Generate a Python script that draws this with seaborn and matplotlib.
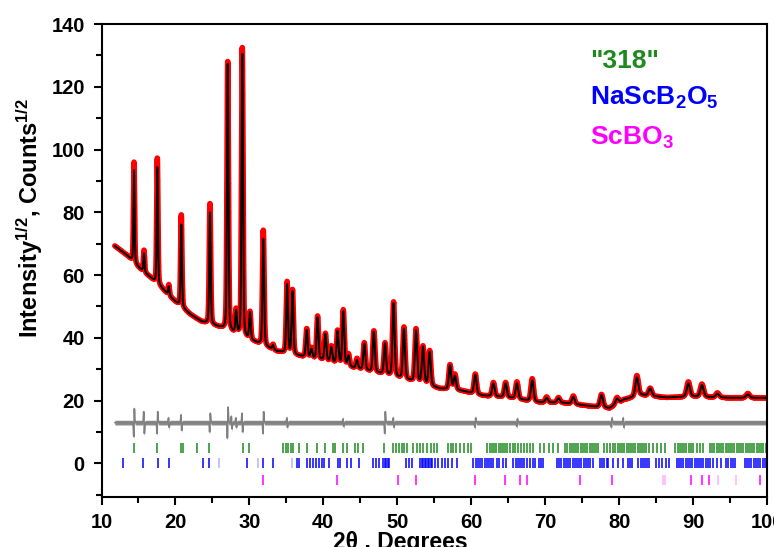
import numpy as np
import pandas as pd
import matplotlib
matplotlib.use("Agg")
import matplotlib.pyplot as plt
import seaborn as sns

# ---------------- data ----------------
peak_pos  = [14.40, 15.75, 17.55, 19.10, 20.79, 24.67, 27.07, 28.20, 29.04, 30.08,
             31.88, 33.20, 35.10, 35.83, 37.75, 38.40, 39.22, 40.28, 41.08, 41.92,
             42.70, 43.40, 44.55, 45.54, 46.83, 48.34, 49.50, 50.90, 52.53, 53.48,
             54.38, 57.13, 57.80, 60.55, 63.00, 64.65, 66.18, 68.25, 70.20, 71.80,
             73.80, 77.62, 79.70, 82.40, 84.20, 89.36, 91.20, 93.30, 97.40]
calc_apex = [93.5, 67.0, 94.7, 56.5, 76.3, 80.2, 127.8, 49.0, 130.5, 48.3,
             71.5, 37.8, 57.2, 55.0, 42.6, 36.6, 46.6, 41.3, 37.2, 42.3,
             48.5, 34.5, 33.0, 38.2, 42.0, 38.3, 51.1, 43.0, 42.5, 37.3,
             35.6, 31.3, 28.0, 28.3, 25.5, 25.5, 25.5, 26.5, 20.9, 20.8,
             21.2, 21.8, 20.7, 27.4, 23.9, 25.5, 25.0, 22.2, 22.0]
obs_apex  = [96.0, 68.0, 97.6, 57.0, 79.4, 83.0, 128.5, 49.5, 132.5, 48.5,
             74.3, 38.0, 58.0, 55.5, 43.0, 37.0, 47.0, 41.5, 37.5, 42.5,
             49.0, 35.0, 33.5, 38.5, 42.3, 38.5, 51.5, 43.5, 43.0, 37.5,
             36.0, 31.5, 28.5, 28.5, 25.8, 25.8, 26.0, 27.0, 21.2, 21.0,
             21.5, 22.0, 21.0, 28.0, 24.0, 26.0, 25.3, 22.5, 22.3]

bg_x = [11.8, 13.5, 15.0, 16.5, 18.3, 20.0, 22.0, 23.5, 26.0, 28.0, 30.8, 33.7,
        36.8, 40.0, 44.0, 47.7, 51.7, 55.8, 58.6, 61.6, 65.0, 69.0, 72.5, 76.0,
        78.7, 80.6, 83.0, 86.4, 90.0, 95.0, 100.0]
bg_y = [69.3, 66.2, 62.5, 59.5, 55.5, 51.5, 47.5, 45.2, 43.3, 41.2, 38.6, 35.7,
        34.2, 32.8, 30.5, 28.6, 26.3, 23.8, 23.2, 21.6, 21.0, 19.5, 19.3, 18.3,
        17.6, 20.3, 21.8, 21.0, 21.3, 20.9, 20.9]

diff_level = 13.0
diff_pos = [14.40, 15.75, 17.55, 19.10, 20.79, 24.67, 27.07, 27.60, 28.20, 29.04,
            31.88, 35.10, 42.70, 48.34, 49.50, 60.55, 66.20, 79.00, 80.60]
diff_amp = [4.5, -3.5, 3.5, -1.5, -2.5, 3.0, 5.0, -2.0, -1.5, -3.0,
            3.5, -1.5, -1.2, 3.5, -1.5, 1.5, 1.2, 1.5, -1.5]

green_ticks = [14.44, 17.55, 20.75, 21.07, 22.87, 24.58, 29.09, 29.95, 34.59, 34.95,
               35.27, 35.58, 35.94, 36.75, 37.83, 39.10, 40.22, 41.26, 41.58, 42.62,
               43.16, 44.28, 44.73, 45.41, 48.25, 49.47, 49.83, 50.24, 50.60, 50.91,
               51.27, 52.17, 52.63, 53.08, 53.52, 53.98, 54.50, 55.00, 55.40, 56.80,
               57.20, 57.60, 58.00, 58.50, 59.00, 59.50, 60.00, 62.20, 62.50, 62.80,
               63.10, 63.40, 63.70, 64.00, 64.30, 64.60, 64.90, 65.30, 65.60, 65.90,
               66.30, 66.70, 67.10, 67.50, 67.90, 68.30, 69.30, 69.90, 70.50, 71.10,
               71.80, 72.70, 73.00, 73.30, 73.60, 73.90, 74.20, 74.50, 74.80, 75.10,
               75.40, 75.70, 76.00, 76.30, 76.60, 76.90, 77.20, 77.90, 78.30, 78.80,
               79.20, 79.50, 79.80, 80.10, 80.40, 80.70, 81.00, 81.30, 81.60, 81.90,
               82.20, 82.50, 82.80, 83.10, 83.40, 83.70, 84.00, 84.60, 85.10, 85.60,
               86.20, 87.60, 87.90, 88.20, 88.50, 88.80, 89.10, 89.40, 89.70, 90.00,
               90.50, 90.90, 91.40, 92.30, 92.60, 92.90, 93.20, 93.50, 93.80, 94.10,
               94.40, 94.70, 95.00, 95.30, 95.60, 95.90, 96.20, 96.50, 96.80, 97.10,
               97.40, 97.70, 98.00, 98.30, 98.60, 98.90, 99.20, 99.50, 99.80]
blue_ticks = [12.86, 15.66, 17.69, 19.18, 23.69, 24.54, 29.64, 31.80, 33.15, 36.40,
              36.75, 37.75, 38.20, 38.65, 39.01, 39.37, 39.78, 40.09, 40.81, 41.94,
              42.26, 43.16, 43.70, 44.87, 46.76, 47.12, 47.57, 48.11, 48.30, 48.50,
              48.70, 48.90, 51.18, 51.63, 51.95, 53.10, 53.30, 53.50, 53.70, 53.90,
              54.10, 54.30, 54.50, 54.70, 55.10, 55.55, 56.00, 56.45, 56.90, 57.36,
              58.10, 60.30, 60.60, 60.90, 61.20, 61.50, 61.80, 62.10, 62.40, 62.70,
              63.00, 63.45, 63.80, 64.26, 64.70, 65.70, 66.00, 66.30, 66.60, 66.90,
              67.20, 67.50, 68.00, 68.30, 68.60, 69.20, 69.50, 69.75, 71.60, 71.90,
              72.20, 72.50, 72.80, 73.10, 73.40, 73.70, 74.00, 74.30, 74.60, 74.90,
              75.20, 75.50, 75.80, 76.10, 76.50, 77.40, 77.70, 78.00, 78.30, 78.50,
              79.20, 79.80, 80.50, 81.20, 81.50, 81.80, 82.60, 82.90, 83.20, 83.50,
              83.80, 84.10, 85.00, 85.40, 85.80, 86.30, 86.80, 87.80, 88.10, 88.40,
              88.70, 89.00, 89.30, 89.60, 89.90, 90.20, 90.50, 90.80, 91.10, 91.40,
              91.70, 92.00, 92.30, 92.70, 93.20, 93.80, 94.40, 94.70, 95.10, 95.40,
              95.70, 97.00, 97.30, 97.60, 97.90, 98.20, 98.50, 98.80, 99.10, 99.40,
              99.70, 99.95]
blue_faint = [25.94, 31.21, 35.72]
magenta_ticks = [31.88, 41.85, 50.14, 52.53, 60.50, 64.60, 66.60, 67.60, 74.70, 79.10,
                 89.70, 91.20, 92.10, 99.05]
magenta_faint = [86.00, 86.20, 93.40, 95.80]

phase_labels = ['"318"', r'NaScB$_{2}$O$_{5}$', r'ScBO$_{3}$']
phase_colors = ['#1e8a1e', '#0000ff', '#ff00ff']

# ---------------- profile construction ----------------
x = np.arange(11.8, 100.0001, 0.02)

def pv(t, p, w, eta=0.3):
    u = (t - p) / w
    return eta / (1 + 4 * u * u) + (1 - eta) * np.exp(-4 * np.log(2) * u * u)

P = np.array(peak_pos)
W = 0.16 + 0.0045 * (P - 10)
B = np.interp(P, bg_x, bg_y)
M = np.array([[pv(pi, pj, wj) for pj, wj in zip(P, W)] for pi in P])

def build(apex):
    A = np.clip(np.linalg.solve(M, np.array(apex) - B), 0, None)
    y = np.interp(x, bg_x, bg_y)
    for a, p, w in zip(A, P, W):
        y = y + a * pv(x, p, w)
    return y

calc = build(calc_apex)
obs = build(obs_apex)
s = 0.045
diff = np.full_like(x, diff_level)
for p, a in zip(diff_pos, diff_amp):
    diff = diff + a * ((x - p) / s) * np.exp(0.5 - (x - p) ** 2 / (2 * s * s))

df = pd.DataFrame({"tt": x, "obs": obs, "calc": calc, "diff": diff})

# ---------------- drawing ----------------
sns.set_theme(style="white")
plt.rcParams["font.family"] = ["Liberation Sans", "DejaVu Sans"]
plt.rcParams["font.weight"] = "bold"
plt.rcParams["text.color"] = "black"
plt.rcParams["xtick.color"] = "black"
plt.rcParams["ytick.color"] = "black"
plt.rcParams["axes.labelcolor"] = "black"
plt.rcParams["mathtext.fontset"] = "custom"
plt.rcParams["mathtext.rm"] = "Liberation Sans:bold"
plt.rcParams["mathtext.it"] = "Liberation Sans:bold"
plt.rcParams["mathtext.bf"] = "Liberation Sans:bold"

fig = plt.figure(figsize=(7.74, 5.47), dpi=100)
ax = fig.add_axes([101.5 / 774, 1 - 496.7 / 547, (767 - 101.5) / 774, (496.7 - 24) / 547])

sns.lineplot(data=df, x="tt", y="obs", color="#ff0000", lw=4.0, estimator=None, ax=ax, zorder=2)
sns.scatterplot(data=df, x="tt", y="obs", color="#ff0000", s=6, linewidth=0, ax=ax, zorder=2)
sns.lineplot(data=df, x="tt", y="calc", color="black", lw=1.4, estimator=None, ax=ax, zorder=3)
ax.fill_between(df["tt"], df["diff"] - 0.75, df["diff"] + 0.75, color="#8a8a8a", lw=0, zorder=2)
sns.lineplot(data=df, x="tt", y="diff", color="#808080", lw=1.2, estimator=None, ax=ax, zorder=2)

ax.vlines(green_ticks, 3.4, 6.6, color=phase_colors[0], lw=1.1)
ax.vlines(blue_ticks, -1.6, 1.6, color=phase_colors[1], lw=1.1)
ax.vlines(blue_faint, -1.6, 1.6, color=phase_colors[1], lw=1.1, alpha=0.3)
ax.vlines(magenta_ticks, -7.0, -3.7, color=phase_colors[2], lw=1.1)
ax.vlines(magenta_faint, -7.0, -3.7, color=phase_colors[2], lw=1.1, alpha=0.3)

ax.set_xlim(10, 100)
ax.set_ylim(-10.6, 140)
ax.set_xticks(np.arange(10, 101, 10))
ax.set_xticks(np.arange(15, 100, 10), minor=True)
ax.set_yticks(np.arange(0, 141, 20))
ax.set_yticks(np.arange(-10, 141, 20), minor=True)
ax.tick_params(axis="both", which="major", direction="out", length=6, width=1.5,
               labelsize=14.5, pad=6, bottom=True, left=True, top=False, right=False,
               colors="black")
ax.tick_params(axis="both", which="minor", direction="out", length=4, width=1.5,
               bottom=True, left=True, top=False, right=False, colors="black")
for lab in ax.get_xticklabels() + ax.get_yticklabels():
    lab.set_fontweight("bold")
for sp in ax.spines.values():
    sp.set_visible(True)
    sp.set_color("black")
    sp.set_linewidth(1.5)
ax.set_xlabel("")
ax.set_ylabel("")

fig.text(30 / 774, 1 - 218 / 547, r"Intensity$^{1/2}$, Counts$^{1/2}$", rotation=90,
         ha="center", va="center", fontsize=17, fontweight="bold")
fig.text(400 / 774, 1 - 531 / 547, "2θ , Degrees", ha="center", va="top",
         fontsize=16.5, fontweight="bold")

label_y = [61, 98, 138]
for lab, col, yy in zip(phase_labels, phase_colors, label_y):
    fig.text(590 / 774, 1 - yy / 547, lab, color=col, ha="left", va="center",
             fontsize=19, fontweight="bold")

fig.savefig("out.png", dpi=100)
